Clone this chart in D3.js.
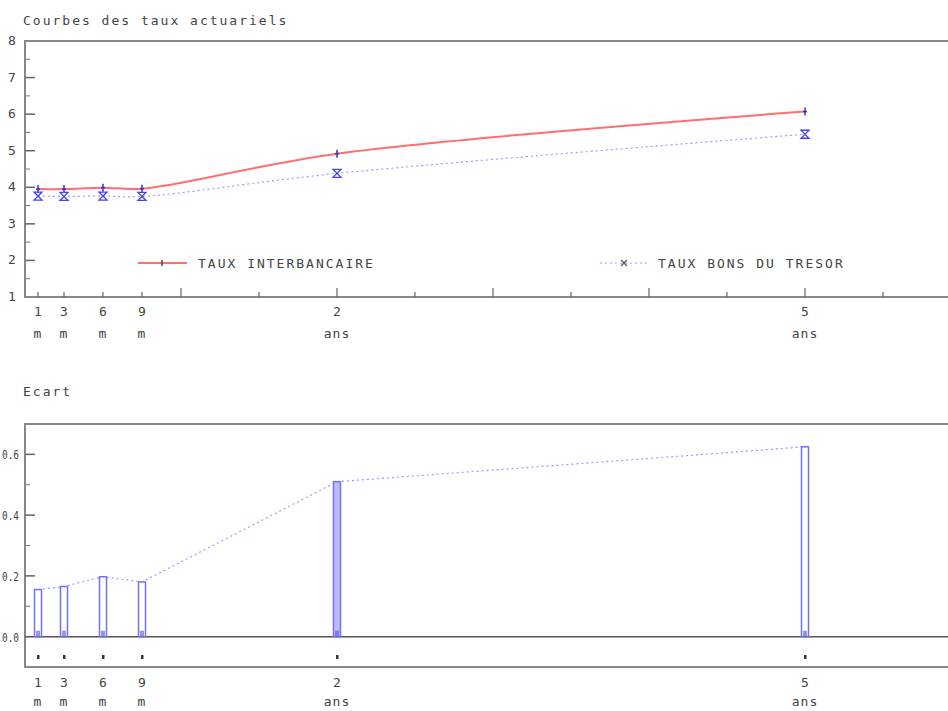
<!DOCTYPE html>
<head>
<script src="https://d3js.org/d3.v7.min.js"></script>
<style type="text/css">
	body { margin: 0; background: #fff; }
	svg { display: block; }
	text { font-family: "DejaVu Sans Mono", monospace; font-size: 13px; fill: #444; letter-spacing: 2px; }
</style>
</head>
<body>
<div id="chart"></div>
</body>
<script>

	// maturities in months, with their two-line labels
	var maturities = [1, 3, 6, 9, 24, 60];
	var labelTop = ["1", "3", "6", "9", "2", "5"];
	var labelBottom = ["m", "m", "m", "m", "ans", "ans"];

	var tauxInterbancaire = [3.95, 3.95, 3.99, 3.96, 4.92, 6.07];
	var tauxBons = [3.76, 3.75, 3.76, 3.75, 4.38, 5.45];
	var ecart = [0.155, 0.165, 0.197, 0.180, 0.510, 0.625];

	var topTicks = [1, 2, 3, 4, 5, 6, 7, 8];
	var bottomTicks = [0, 0.2, 0.4, 0.6];

	var width = 948, height = 711;

	var svg = d3.select("#chart").append("svg")
		.attr("width", width)
		.attr("height", height);

	var x = d3.scaleLinear().domain([0, 71]).range([25, 948]);
	var y1 = d3.scaleLinear().domain([1, 8]).range([297, 41]);
	var y2 = d3.scaleLinear().domain([-0.1, 0.7]).range([667, 424]);

	var frameColor = "#888";

	// ---------- top chart ----------
	svg.append("text").attr("x", 23).attr("y", 25).text("Courbes des taux actuariels");

	svg.append("rect")
		.attr("x", x(0)).attr("y", y1(8))
		.attr("width", width + 10 - x(0)).attr("height", y1(1) - y1(8))
		.attr("fill", "none").attr("stroke", frameColor).attr("stroke-width", 2);

	// y axis ticks (major on integers, minor on halves)
	var yMinor = d3.range(1.5, 8, 1);
	svg.append("g").selectAll("line.maj").data(topTicks.slice(1, -1)).enter().append("line")
		.attr("x1", x(0)).attr("x2", x(0) + 10)
		.attr("y1", d => y1(d)).attr("y2", d => y1(d))
		.attr("stroke", "#666").attr("stroke-width", 1.5);
	svg.append("g").selectAll("line.min").data(yMinor).enter().append("line")
		.attr("x1", x(0)).attr("x2", x(0) + 5)
		.attr("y1", d => y1(d)).attr("y2", d => y1(d))
		.attr("stroke", "#777").attr("stroke-width", 1);
	svg.append("g").selectAll("text").data(topTicks).enter().append("text")
		.attr("x", 12).attr("y", d => y1(d) + 4)
		.attr("text-anchor", "middle").style("letter-spacing", "0px")
		.text(d => d);

	// x axis ticks: maturities + every 6 months from 12
	var xTicks6 = d3.range(12, 71, 6);
	svg.append("g").selectAll("line").data(xTicks6).enter().append("line")
		.attr("x1", d => x(d)).attr("x2", d => x(d))
		.attr("y1", y1(1)).attr("y2", d => y1(1) - (d % 12 === 0 ? 9 : 5))
		.attr("stroke", "#666").attr("stroke-width", 1.2);
	svg.append("g").selectAll("line").data(maturities.slice(0, 4)).enter().append("line")
		.attr("x1", d => x(d)).attr("x2", d => x(d))
		.attr("y1", y1(1)).attr("y2", y1(1) - 5)
		.attr("stroke", "#666").attr("stroke-width", 1.2);

	function xLabels(yTop, yBot) {
		var g = svg.append("g");
		g.selectAll("text.t").data(maturities).enter().append("text")
			.attr("x", d => x(d)).attr("y", yTop)
			.attr("text-anchor", "middle").style("letter-spacing", "0px")
			.text((d, i) => labelTop[i]);
		g.selectAll("text.b").data(maturities).enter().append("text")
			.attr("x", d => x(d)).attr("y", yBot)
			.attr("text-anchor", "middle").style("letter-spacing", "1px")
			.text((d, i) => labelBottom[i]);
	}
	xLabels(316, 338);

	// curves
	var redColor = "#ff6f6f", blueColor = "#9a9aff", markColor = "#3333cc";

	var line1 = d3.line().x((d, i) => x(maturities[i])).y(d => y1(d)).curve(d3.curveCatmullRom);

	svg.append("path").datum(tauxBons)
		.attr("d", line1).attr("fill", "none")
		.attr("stroke", blueColor).attr("stroke-width", 1.2)
		.attr("stroke-dasharray", "2,3");
	svg.append("path").datum(tauxInterbancaire)
		.attr("d", line1).attr("fill", "none")
		.attr("stroke", redColor).attr("stroke-width", 2);

	function plusMark(g, cx, cy) {
		g.append("line").attr("x1", cx).attr("x2", cx).attr("y1", cy - 4).attr("y2", cy + 4)
			.attr("stroke", markColor).attr("stroke-width", 1.5);
		g.append("line").attr("x1", cx - 2).attr("x2", cx + 2).attr("y1", cy).attr("y2", cy)
			.attr("stroke", markColor).attr("stroke-width", 1.5);
	}
	function crossMark(g, cx, cy) {
		var p = "M" + (cx - 4) + "," + (cy - 4) + "H" + (cx + 4) + "L" + (cx - 4) + "," + (cy + 4) + "H" + (cx + 4) + "Z";
		g.append("path").attr("d", p).attr("fill", "none")
			.attr("stroke", "#4444ee").attr("stroke-width", 1.3);
	}

	var marks = svg.append("g");
	tauxInterbancaire.forEach((v, i) => plusMark(marks, x(maturities[i]), y1(v)));
	tauxBons.forEach((v, i) => crossMark(marks, x(maturities[i]), y1(v)));

	// legend
	var lg = svg.append("g");
	lg.append("line").attr("x1", 138).attr("x2", 187).attr("y1", 263).attr("y2", 263)
		.attr("stroke", redColor).attr("stroke-width", 2);
	lg.append("line").attr("x1", 162).attr("x2", 162).attr("y1", 260).attr("y2", 266)
		.attr("stroke", "#444").attr("stroke-width", 1.5);
	lg.append("text").attr("x", 198).attr("y", 268).text("TAUX INTERBANCAIRE");
	lg.append("line").attr("x1", 600).attr("x2", 650).attr("y1", 263).attr("y2", 263)
		.attr("stroke", blueColor).attr("stroke-width", 1.2).attr("stroke-dasharray", "2,3");
	lg.append("path").attr("d", "M621,260L627,266M627,260L621,266")
		.attr("stroke", "#555").attr("stroke-width", 1.2);
	lg.append("text").attr("x", 658).attr("y", 268).text("TAUX BONS DU TRESOR");

	// ---------- bottom chart ----------
	svg.append("text").attr("x", 23).attr("y", 396).text("Ecart");

	svg.append("rect")
		.attr("x", x(0)).attr("y", y2(0.7))
		.attr("width", width + 10 - x(0)).attr("height", y2(-0.1) - y2(0.7))
		.attr("fill", "none").attr("stroke", frameColor).attr("stroke-width", 2);

	var y2Minor = [0.1, 0.3, 0.5];
	svg.append("g").selectAll("line").data(bottomTicks.slice(1)).enter().append("line")
		.attr("x1", x(0)).attr("x2", x(0) + 10)
		.attr("y1", d => y2(d)).attr("y2", d => y2(d))
		.attr("stroke", "#666").attr("stroke-width", 1.5);
	svg.append("g").selectAll("line").data(y2Minor).enter().append("line")
		.attr("x1", x(0)).attr("x2", x(0) + 5)
		.attr("y1", d => y2(d)).attr("y2", d => y2(d))
		.attr("stroke", "#777").attr("stroke-width", 1);
	svg.append("g").selectAll("text").data(bottomTicks).enter().append("text")
		.attr("x", 19).attr("y", d => y2(d) + 5)
		.attr("text-anchor", "end").style("letter-spacing", "0px")
		.attr("textLength", 17).attr("lengthAdjust", "spacingAndGlyphs")
		.text(d => d3.format(".1f")(d));

	// zero line
	svg.append("line").attr("x1", x(0)).attr("x2", width)
		.attr("y1", y2(0)).attr("y2", y2(0))
		.attr("stroke", "#555").attr("stroke-width", 1.5);

	// connecting dotted line
	var line2 = d3.line().x((d, i) => x(maturities[i])).y(d => y2(d));
	svg.append("path").datum(ecart)
		.attr("d", line2).attr("fill", "none")
		.attr("stroke", blueColor).attr("stroke-width", 1.2)
		.attr("stroke-dasharray", "2,3");

	// bars
	var barW = 7;
	svg.append("g").selectAll("rect").data(ecart).enter().append("rect")
		.attr("x", (d, i) => x(maturities[i]) - barW / 2)
		.attr("y", d => y2(d))
		.attr("width", barW)
		.attr("height", d => y2(0) - y2(d))
		.attr("fill", (d, i) => i === 4 ? "#bcbcff" : "#fff")
		.attr("stroke", "#7070ff").attr("stroke-width", 1.5);
	svg.append("g").selectAll("rect").data(ecart).enter().append("rect")
		.attr("x", (d, i) => x(maturities[i]) - 2)
		.attr("y", y2(0) - 6)
		.attr("width", 4).attr("height", 6)
		.attr("fill", "#5555bb").attr("opacity", 0.6);

	// small dots under the zero line
	svg.append("g").selectAll("rect").data(maturities).enter().append("rect")
		.attr("x", d => x(d) - 1).attr("y", y2(-0.067) - 2)
		.attr("width", 2.5).attr("height", 4)
		.attr("fill", "#333");

	xLabels(687, 706);

</script>
